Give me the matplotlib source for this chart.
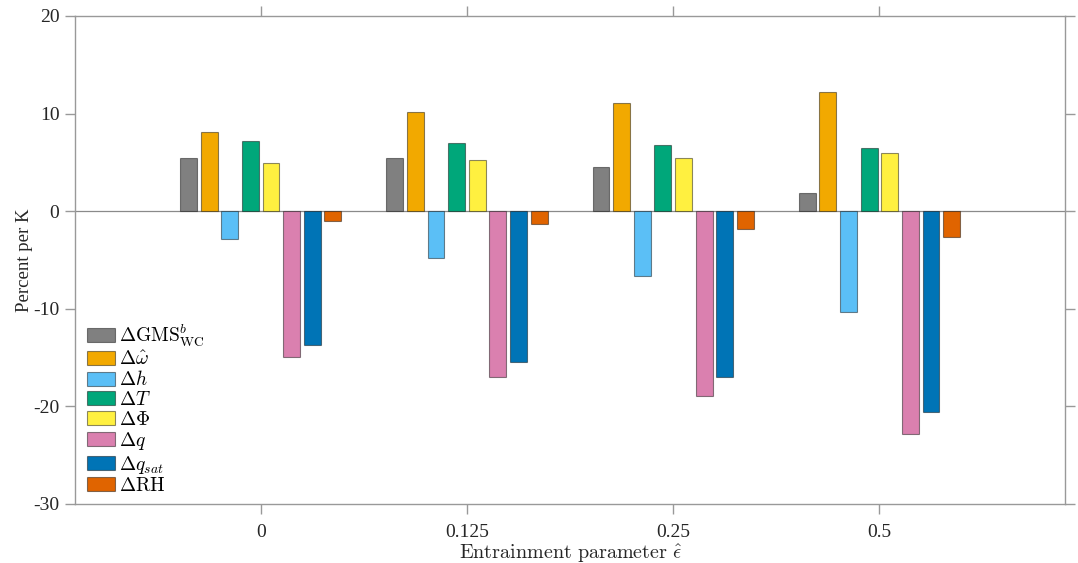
import numpy as np
import matplotlib
matplotlib.use("Agg")
import matplotlib.pyplot as plt

plt.rcParams['font.family'] = ['Liberation Serif', 'DejaVu Serif']
plt.rcParams['mathtext.fontset'] = 'cm'
plt.rcParams['axes.unicode_minus'] = False

# entrainment parameter values (one group of bars each)
eps_labels = ['0', '0.125', '0.25', '0.5']

# percent change per K for each term
d_gms = [5.5, 5.5, 4.5, 1.9]
d_omega = [8.1, 10.2, 11.1, 12.2]
d_h = [-2.8, -4.8, -6.6, -10.3]
d_T = [7.2, 7.0, 6.8, 6.5]
d_phi = [4.9, 5.2, 5.5, 6.0]
d_q = [-14.9, -17.0, -18.9, -22.8]
d_qsat = [-13.7, -15.5, -17.0, -20.6]
d_rh = [-1.0, -1.3, -1.8, -2.6]

series = [d_gms, d_omega, d_h, d_T, d_phi, d_q, d_qsat, d_rh]
names = [r'$\Delta\mathrm{GMS}^b_\mathrm{WC}$', r'$\Delta\hat{\omega}$',
         r'$\Delta h$', r'$\Delta T$', r'$\Delta\Phi$', r'$\Delta q$',
         r'$\Delta q_{sat}$', r'$\Delta\mathrm{RH}$']
colors = ['#808080', '#F2A900', '#5BBFF6', '#00A77A',
          '#FFF040', '#DA80AF', '#0074B6', '#E06400']

fig = plt.figure(figsize=(10.78, 5.63), dpi=100)
ax = fig.add_axes([0.0696, 0.1048, 0.9184, 0.8668])

x = np.arange(1, len(eps_labels) + 1)
step = 0.1
width = 0.082
for i, (vals, name, c) in enumerate(zip(series, names, colors)):
    ax.bar(x + (i - 3.5) * step, vals, width=width, color=c,
           edgecolor=(0, 0, 0, 0.45), linewidth=0.8, label=name, zorder=3)

ax.axhline(0, color='#8a8a8a', lw=0.9, zorder=2)

ax.set_xlim(0.1, 4.9)
ax.set_ylim(-30, 20)
ax.set_yticks([-30, -20, -10, 0, 10, 20])
ax.set_xticks(x)
ax.set_xticklabels(eps_labels)

for s in ax.spines.values():
    s.set_color('#999999')
    s.set_linewidth(1.0)
ax.tick_params(axis='both', which='both', direction='out', length=7.2,
               width=1.0, color='#999999', labelsize=14, labelcolor='#262626',
               top=True, right=True, pad=4)
ax.tick_params(axis='x', pad=7.5)

ax.set_ylabel('Percent per K', fontsize=13.5, color='#262626', labelpad=0)
ax.set_xlabel(r'$\mathrm{Entrainment\ parameter}\ \hat{\epsilon}$',
              fontsize=14.5, color='#262626', labelpad=0.5)

ax.legend(loc='lower left', bbox_to_anchor=(0.012, 0.018), frameon=False,
          fontsize=14, handlelength=1.44, handleheight=0.72,
          handletextpad=0.2, labelspacing=0.08, borderaxespad=0.0,
          borderpad=0.0)

fig.savefig('out.png', dpi=100)
